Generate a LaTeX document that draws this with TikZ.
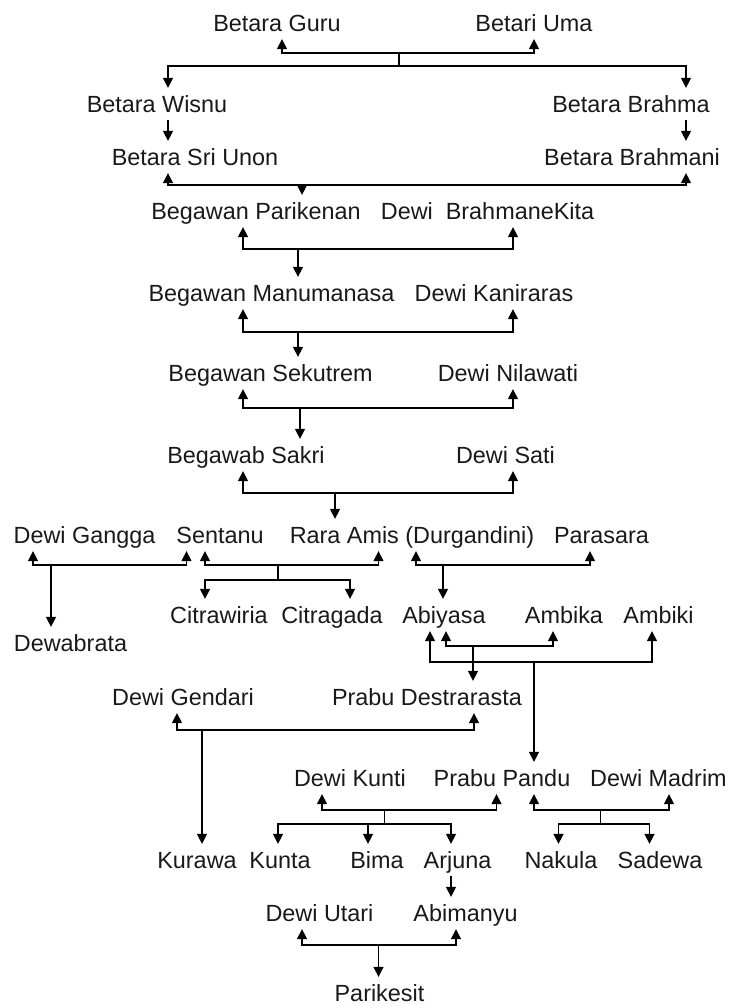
\documentclass[tikz,border=0pt]{standalone}
\usepackage{fontspec}
\setmainfont{Liberation Sans}
\usetikzlibrary{arrows.meta}
\begin{document}
\begin{tikzpicture}[x=1pt,y=-1pt,line width=1.5pt,
	tokoh/.style={font=\fontsize{23.4}{28}\selectfont,text=black!90,inner xsep=0pt,inner ysep=7pt,text height=16.8pt,text depth=0pt},
	anak/.style={-{Triangle[width=10pt,length=10pt]}},
	pasangan/.style={{Triangle[width=10pt,length=10pt]}-{Triangle[width=10pt,length=10pt]}}]
	\useasboundingbox (0,0) rectangle (731,1007);
	\node (guru) at (277,23) [tokoh] {Betara Guru};
	\node (uma) at (534,23) [tokoh] {Betari Uma};
	\node (wisnu) at (157,104) [tokoh] {Betara Wisnu};
	\node (brahma) at (631,104) [tokoh] {Betara Brahma};
	\node (srion) at (195,157) [tokoh] {Betara Sri Unon};
	\node (brahmani) at (632,157) [tokoh] {Betara Brahmani};
	\node (parikenan) at (256,211) [tokoh] {Begawan Parikenan};
	\node (kita) at (487.5,211) [tokoh] {Dewi~~BrahmaneKita};
	\node (manumanasa) at (271.5,293) [tokoh] {Begawan Manumanasa};
	\node (kaniraras) at (494,293) [tokoh] {Dewi Kaniraras};
	\node (sekutrem) at (270.5,373) [tokoh] {Begawan Sekutrem};
	\node (nilawati) at (508,373) [tokoh] {Dewi Nilawati};
	\node (sakri) at (246,455) [tokoh] {Begawab Sakri};
	\node (sati) at (505.5,455) [tokoh] {Dewi Sati};
	\node (gangga) at (84.5,535) [tokoh] {Dewi Gangga};
	\node (sentanu) at (220,535) [tokoh] {Sentanu};
	\node (rara) at (412,535) [tokoh] {Rara Amis (Durgandini)};
	\node (parasara) at (601.5,535) [tokoh] {Parasara};
	\node (citrawiria) at (219,615) [tokoh] {Citrawiria};
	\node (citragada) at (332,615) [tokoh] {Citragada};
	\node (abiyasa) at (444,615) [tokoh] {Abiyasa};
	\node (ambika) at (564,615) [tokoh] {Ambika};
	\node (ambiki) at (658.5,615) [tokoh] {Ambiki};
	\node (dewabrata) at (70.5,643) [tokoh] {Dewabrata};
	\node (gendari) at (183,697) [tokoh] {Dewi Gendari};
	\node (destrarasta) at (427,697) [tokoh] {Prabu Destrarasta};
	\node (kunti) at (350,778) [tokoh] {Dewi Kunti};
	\node (pandu) at (502,778) [tokoh] {Prabu Pandu};
	\node (madrim) at (658.5,778) [tokoh] {Dewi Madrim};
	\node (kurawa) at (197,860) [tokoh] {Kurawa};
	\node (kunta) at (280,860) [tokoh] {Kunta};
	\node (bima) at (377,860) [tokoh] {Bima};
	\node (arjuna) at (457.5,860) [tokoh] {Arjuna};
	\node (nakula) at (561,860) [tokoh] {Nakula};
	\node (sadewa) at (660,860) [tokoh] {Sadewa};
	\node (utari) at (319.5,913) [tokoh] {Dewi Utari};
	\node (abimanyu) at (465.5,913) [tokoh] {Abimanyu};
	\node (parikesit) at (379.5,993) [tokoh] {Parikesit};
	\coordinate (j1) at (399,53);
	\coordinate (k1) at (399,66);
	\coordinate (j2) at (302,185);
	\coordinate (j3) at (298,249);
	\coordinate (j4) at (298,332);
	\coordinate (j5) at (300,408);
	\coordinate (j6) at (335,493);
	\coordinate (j7) at (51,565);
	\coordinate (j8) at (278,565);
	\coordinate (k8) at (278,580);
	\coordinate (j9) at (443,565);
	\coordinate (j10) at (473,646);
	\coordinate (j11) at (534,662);
	\coordinate (j12) at (202,730);
	\coordinate (j13) at (384.5,810);
	\coordinate (k13) at (384.5,824);
	\coordinate (j14) at (600.5,810);
	\coordinate (k14) at (600.5,824);
	\coordinate (j15) at (378.5,945);
	\draw[pasangan] ([xshift=5]guru.south) |- (j1) -| (uma.south);
	\draw (j1) -- (k1);
	\draw[anak] (k1) -| ([xshift=11]wisnu.north);
	\draw[anak] (k1) -| ([xshift=55]brahma.north);
	\draw[anak] ([xshift=11]wisnu.south) -- ([xshift=-27]srion.north);
	\draw[anak] ([xshift=55]brahma.south) -- ([xshift=54]brahmani.north);
	\draw[pasangan] ([xshift=-27]srion.south) |- (j2) -| ([xshift=54]brahmani.south);
	\draw[anak] (j2) -- ([xshift=46]parikenan.north);
	\draw[pasangan] ([xshift=-13]parikenan.south) |- (j3) -| ([xshift=25.5]kita.south);
	\draw[anak] (j3) -- ([xshift=26.5]manumanasa.north);
	\draw[pasangan] ([xshift=-28.5]manumanasa.south) |- (j4) -| ([xshift=19]kaniraras.south);
	\draw[anak] (j4) -- ([xshift=27.5]sekutrem.north);
	\draw[pasangan] ([xshift=-27.5]sekutrem.south) |- (j5) -| ([xshift=5]nilawati.south);
	\draw[anak] (j5) -- ([xshift=54]sakri.north);
	\draw[pasangan] ([xshift=-3]sakri.south) |- (j6) -| ([xshift=7.5]sati.south);
	\draw[anak] (j6) -- ([xshift=-77]rara.north);
	\draw[pasangan] ([xshift=-51.5]gangga.south) |- (j7) -| ([xshift=-33.5]sentanu.south);
	\draw[anak] (j7) -- ([xshift=-19.5]dewabrata.north);
	\draw[pasangan] ([xshift=-15]sentanu.south) |- (j8) -| ([xshift=-33.5]rara.south);
	\draw (j8) -- (k8);
	\draw[anak] (k8) -| ([xshift=-14]citrawiria.north);
	\draw[anak] (k8) -| ([xshift=18]citragada.north);
	\draw[pasangan] ([xshift=4]rara.south) |- (j9) -| ([xshift=-11.5]parasara.south);
	\draw[anak] (j9) -- ([xshift=-1]abiyasa.north);
	\draw[pasangan] ([xshift=2]abiyasa.south) |- (j10) -| ([xshift=-11]ambika.south);
	\draw[pasangan] ([xshift=-14]abiyasa.south) |- (j11) -| ([xshift=-6.5]ambiki.south);
	\draw[anak] (j10) -- ([xshift=46]destrarasta.north);
	\draw[anak] (j11) -- ([xshift=32]pandu.north);
	\draw[pasangan] ([xshift=-6]gendari.south) |- (j12) -| ([xshift=47]destrarasta.south);
	\draw[anak] (j12) -- ([xshift=5]kurawa.north);
	\draw[pasangan] ([xshift=-28]kunti.south) |- (j13) -| ([xshift=-5.5]pandu.south);
	\draw (j13) -- (k13);
	\draw[anak] (k13) -| ([xshift=-2]kunta.north);
	\draw[anak] (k13) -| ([xshift=-9]bima.north);
	\draw[anak] (k13) -| ([xshift=-6.5]arjuna.north);
	\draw[pasangan] ([xshift=32]pandu.south) |- (j14) -| ([xshift=10.5]madrim.south);
	\draw (j14) -- (k14);
	\draw[anak] (k14) -| ([xshift=-2.5]nakula.north);
	\draw[anak] (k14) -| ([xshift=-10.5]sadewa.north);
	\draw[anak] ([xshift=-6.5]arjuna.south) -- ([xshift=-14.5]abimanyu.north);
	\draw[pasangan] ([xshift=-17.5]utari.south) |- (j15) -| ([xshift=-9.5]abimanyu.south);
	\draw[anak] (j15) -- ([xshift=-1]parikesit.north);
\end{tikzpicture}
\end{document}
